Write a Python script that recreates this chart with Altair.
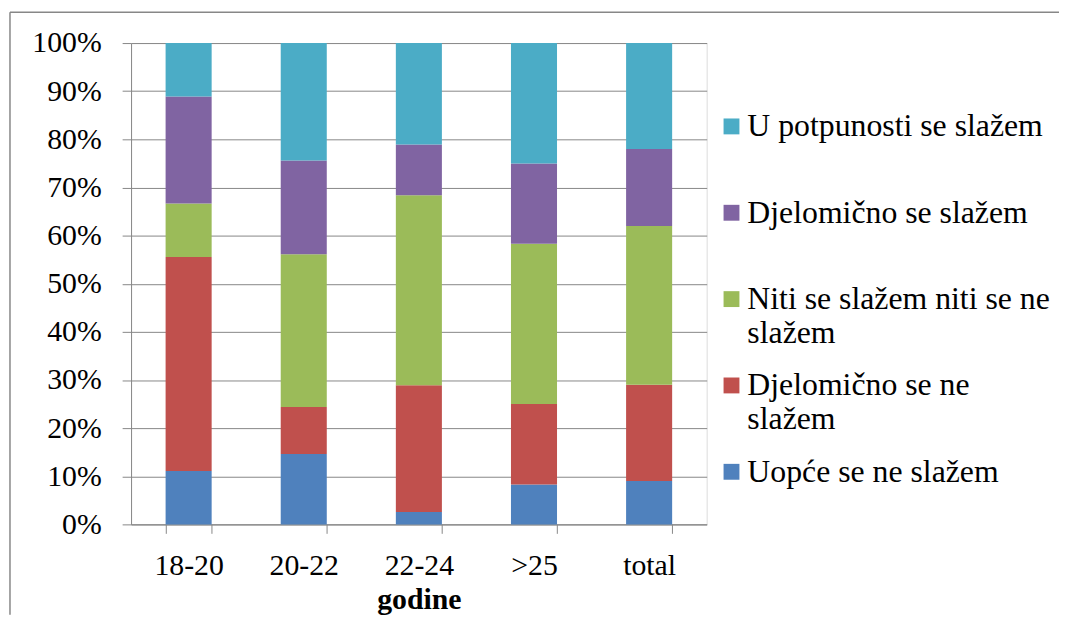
import altair as alt
import pandas as pd

groups = ["18-20", "20-22", "22-24", ">25", "total"]
responses = [
    "Uopće se ne slažem",
    "Djelomično se ne slažem",
    "Niti se slažem niti se ne slažem",
    "Djelomično se slažem",
    "U potpunosti se slažem",
]
colors = ["#4F81BD", "#C0504D", "#9BBB59", "#8064A2", "#4BACC6"]

uopce_ne = [11.1, 14.6, 2.6, 8.3, 9.0]
djelomicno_ne = [44.4, 9.8, 26.3, 16.7, 20.0]
niti_niti = [11.1, 31.7, 39.5, 33.3, 33.0]
djelomicno_da = [22.2, 19.5, 10.5, 16.7, 16.0]
potpuno_da = [11.1, 24.4, 21.1, 25.0, 22.0]

y_ticks = [0, 0.1, 0.2, 0.3, 0.4, 0.5, 0.6, 0.7, 0.8, 0.9, 1.0]

series = [uopce_ne, djelomicno_ne, niti_niti, djelomicno_da, potpuno_da]
rows = []
for si, (name, vals) in enumerate(zip(responses, series)):
    for g, v in zip(groups, vals):
        rows.append({"godine": g, "odgovor": name, "postotak": v, "red": si})
df = pd.DataFrame(rows)

FONT = "Liberation Serif"
GRAY = "#878787"

legend_order = list(reversed(responses))
legend_colors = list(reversed(colors))

label_expr = (
    "datum.label == 'Niti se slažem niti se ne slažem' ? ['Niti se slažem niti se ne', 'slažem'] : "
    "datum.label == 'Djelomično se ne slažem' ? ['Djelomično se ne', 'slažem'] : datum.label"
)

bars = alt.Chart(df).mark_bar().encode(
    x=alt.X(
        "godine:N",
        sort=groups,
        scale=alt.Scale(paddingInner=0.6, paddingOuter=0.3),
        axis=alt.Axis(
            title="godine",
            titleFont=FONT,
            titleFontSize=30,
            titleFontWeight="bold",
            titleColor="black",
            titlePadding=5,
            labelFont=FONT,
            labelFontSize=30,
            labelColor="black",
            labelAngle=0,
            labelPadding=17,
            tickSize=9,
            tickColor=GRAY,
            tickBand="extent",
            domainColor=GRAY,
            grid=False,
        ),
    ),
    y=alt.Y(
        "postotak:Q",
        stack="normalize",
        scale=alt.Scale(domain=[0, 1], nice=False),
        axis=alt.Axis(
            title=None,
            values=y_ticks,
            format=".0%",
            labelFont=FONT,
            labelFontSize=30,
            labelColor="black",
            labelPadding=21,
            tickSize=9,
            tickColor=GRAY,
            domainColor=GRAY,
            gridColor=GRAY,
            gridWidth=1,
        ),
    ),
    color=alt.Color(
        "odgovor:N",
        scale=alt.Scale(domain=legend_order, range=legend_colors),
        legend=alt.Legend(
            title=None,
            orient="none",
            legendX=589,
            legendY=78,
            direction="vertical",
            padding=0,
            symbolType="M-1.6,-3.6H1.6V-0.4H-1.6Z",
            symbolSize=100,
            symbolStrokeWidth=0,
            labelFont=FONT,
            labelFontSize=32,
            labelColor="black",
            labelOffset=0,
            labelLimit=400,
            labelBaseline="alphabetic",
            labelExpr=label_expr,
            rowPadding=21,
            gridAlign="all",
        ),
    ),
    order=alt.Order("red:Q", sort="ascending"),
)

frame_data = alt.Data(values=[{"k": 1}])
frame_top = alt.Chart(frame_data).mark_rule(color=GRAY, strokeWidth=1.5).encode(
    x=alt.value(-122), x2=alt.value(937), y=alt.value(-31)
)
frame_left = alt.Chart(frame_data).mark_rule(color=GRAY, strokeWidth=1.5).encode(
    x=alt.value(-122), y=alt.value(-31), y2=alt.value(576)
)

chart = (
    alt.layer(bars, frame_top, frame_left)
    .properties(
        width=580,
        height=485,
        autosize=alt.AutoSizeParams(type="none"),
        padding={"left": 124, "top": 33, "right": 355, "bottom": 92},
    )
    .configure_view(stroke=None)
    .configure(background="white")
)

chart.save("out.html", embed_options={"renderer": "svg", "actions": False})
